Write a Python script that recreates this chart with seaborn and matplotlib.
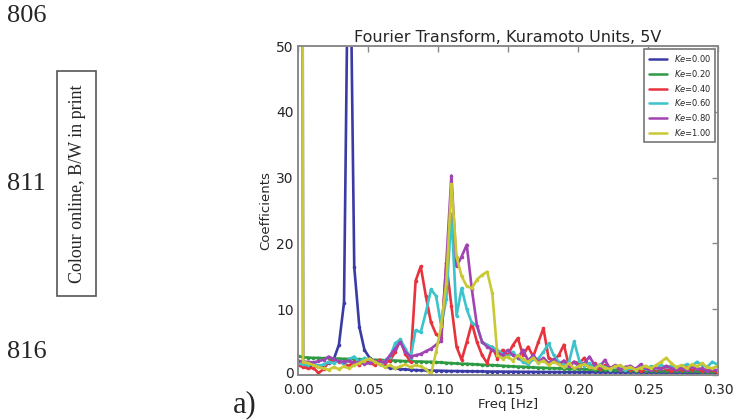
import numpy as np
import pandas as pd
import matplotlib
matplotlib.use("Agg")
import matplotlib.pyplot as plt
import matplotlib.transforms as mtransforms
import seaborn as sns
from matplotlib.lines import Line2D
from matplotlib.patches import Rectangle

# Frequency bins of the spectrum [Hz]
freq_hz = [
    0.0, 0.00365, 0.0073, 0.01095, 0.0146, 0.01825, 0.0219, 0.02555, 0.0292, 0.03285,
    0.0365, 0.04015, 0.0438, 0.04745, 0.0511, 0.05475, 0.0584, 0.06205, 0.0657, 0.06935,
    0.073, 0.07665, 0.0803, 0.08395, 0.0876, 0.09125, 0.0949, 0.09855, 0.1022, 0.10585,
    0.1095, 0.11315, 0.1168, 0.12045, 0.1241, 0.12775, 0.1314, 0.13505, 0.1387, 0.14235,
    0.146, 0.14965, 0.1533, 0.15695, 0.1606, 0.16425, 0.1679, 0.17155, 0.1752, 0.17885,
    0.1825, 0.18615, 0.1898, 0.19345, 0.1971, 0.20075, 0.2044, 0.20805, 0.2117, 0.21535,
    0.219, 0.22265, 0.2263, 0.22995, 0.2336, 0.23725, 0.2409, 0.24455, 0.2482, 0.25185,
    0.2555, 0.25915, 0.2628, 0.26645, 0.2701, 0.27375, 0.2774, 0.28105, 0.2847, 0.28835,
    0.292, 0.29565, 0.2993, 0.30295, 0.3066, 0.31025,
]

ke_labels = [r"$Ke$=0.00", r"$Ke$=0.20", r"$Ke$=0.40", r"$Ke$=0.60", r"$Ke$=0.80", r"$Ke$=1.00"]

coef_ke000 = [
    600, 1.6, 1.4, 1.3, 1.4, 1.5, 1.8, 2.4, 4.6, 11.0,
    80, 16.4, 7.3, 3.8, 2.6, 2.0, 1.6, 1.3, 1.1, 1.0,
    0.9, 0.85, 0.8, 0.75, 0.72, 0.7, 0.68, 0.66, 0.64, 0.62,
    0.6, 0.6, 0.58, 0.57, 0.56, 0.55, 0.54, 0.53, 0.52, 0.52,
    0.51, 0.5, 0.5, 0.49, 0.48, 0.48, 0.47, 0.47, 0.46, 0.46,
    0.45, 0.45, 0.44, 0.44, 0.43, 0.43, 0.43, 0.42, 0.42, 0.42,
    0.41, 0.41, 0.41, 0.4, 0.4, 0.4, 0.4, 0.39, 0.39, 0.39,
    0.39, 0.38, 0.38, 0.38, 0.38, 0.38, 0.37, 0.37, 0.37, 0.37,
    0.37, 0.36, 0.36, 0.36, 0.36, 0.36,
]
coef_ke020 = [
    2.9, 2.7, 2.65, 2.6, 2.6, 2.55, 2.55, 2.5, 2.5, 2.45,
    2.45, 2.4, 2.4, 2.35, 2.35, 2.3, 2.3, 2.25, 2.2, 2.2,
    2.15, 2.1, 2.1, 2.05, 2.05, 2.0, 2.0, 1.95, 1.9, 1.85,
    1.8, 1.75, 1.7, 1.7, 1.65, 1.6, 1.55, 1.5, 1.5, 1.45,
    1.4, 1.35, 1.3, 1.28, 1.25, 1.2, 1.15, 1.12, 1.1, 1.05,
    1.02, 1.0, 0.97, 0.95, 0.92, 0.9, 0.88, 0.85, 0.83, 0.8,
    0.78, 0.76, 0.74, 0.72, 0.7, 0.68, 0.67, 0.66, 0.65, 0.64,
    0.62, 0.61, 0.6, 0.59, 0.58, 0.57, 0.56, 0.55, 0.54, 0.53,
    0.52, 0.51, 0.5, 0.5, 0.49, 0.48,
]
coef_ke040 = [
    1.5, 1.2, 1.0, 1.1, 0.3, 0.9, 2.0, 2.3, 2.0, 1.7,
    1.4, 2.0, 1.5, 2.2, 1.9, 1.5, 2.3, 1.8, 2.2, 3.5,
    5.3, 3.2, 2.0, 14.3, 16.5, 12.0, 8.0, 6.2, 5.6, 17.0,
    10.5, 4.3, 2.3, 5.0, 7.9, 5.0, 3.0, 1.8, 4.3, 2.5,
    3.8, 3.0, 4.5, 5.6, 3.0, 4.3, 2.8, 5.0, 7.1, 2.6,
    2.2, 3.0, 4.6, 1.3, 2.0, 1.8, 2.6, 1.2, 1.8, 0.9,
    1.5, 1.0, 1.4, 0.8, 1.2, 0.7, 1.0, 0.6, 0.9, 1.2,
    0.8, 1.3, 0.9, 0.6, 1.0, 0.7, 1.2, 0.8, 1.1, 0.6,
    0.9, 0.7, 0.5, 0.8, 0.6, 0.7,
]
coef_ke060 = [
    1.8, 1.6, 1.5, 1.8, 1.4, 1.6, 2.0, 1.8, 2.2, 1.6,
    2.4, 2.8, 2.0, 2.6, 2.3, 2.0, 1.7, 2.2, 2.8, 4.8,
    5.4, 4.0, 2.6, 6.8, 6.5, 9.5, 13.0, 12.0, 7.5, 11.5,
    24.5, 9.0, 13.2, 10.0, 7.9, 7.5, 5.0, 4.6, 4.2, 3.8,
    3.2, 2.8, 3.5, 2.6, 2.0, 1.6, 2.4, 2.5, 3.5, 4.8,
    3.0, 2.0, 1.5, 2.0, 5.1, 2.2, 1.4, 1.8, 1.0, 1.6,
    1.2, 0.8, 1.3, 1.0, 0.7, 1.1, 0.8, 1.2, 0.9, 1.3,
    1.0, 1.5, 1.2, 1.4, 1.0, 1.3, 1.6, 1.3, 2.0, 1.5,
    1.2, 2.0, 1.6, 1.4, 1.8, 1.5,
]
coef_ke080 = [
    2.2, 2.0, 2.0, 1.9, 2.1, 2.3, 2.8, 2.4, 2.1, 2.0,
    2.2, 1.8, 2.0, 1.7, 1.8, 2.2, 1.9, 2.0, 3.0, 4.0,
    5.0, 3.5, 2.8, 3.0, 3.2, 3.6, 4.0, 4.6, 5.2, 17.0,
    30.3, 16.5, 18.0, 19.8, 13.0, 7.5, 5.0, 4.3, 3.8, 3.4,
    3.0, 3.8, 3.0, 2.6, 3.8, 2.2, 3.0, 2.0, 2.6, 1.8,
    2.4, 1.6, 2.2, 1.4, 2.0, 1.2, 1.8, 2.8, 1.5, 1.2,
    2.3, 1.0, 1.5, 0.8, 1.2, 1.4, 0.9, 1.6, 1.0, 0.7,
    1.2, 0.9, 1.4, 1.0, 0.8, 1.1, 0.7, 1.3, 0.9, 1.0,
    0.6, 0.9, 0.7, 0.5, 0.8, 0.6,
]
coef_ke100 = [
    600, 2.0, 1.8, 1.5, 1.2, 1.0, 0.8, 1.2, 0.9, 1.3,
    1.0, 1.5, 1.8, 2.2, 2.5, 2.0, 1.6, 1.2, 1.5, 1.0,
    1.3, 1.6, 1.2, 1.5, 1.3, 0.9, 0.1, 3.5, 7.5, 14.0,
    29.0, 18.0, 15.0, 13.5, 13.2, 14.5, 15.2, 15.7, 12.4, 3.0,
    2.5, 2.8, 2.2, 3.0, 2.4, 2.0, 2.6, 1.8, 2.2, 1.5,
    2.0, 1.6, 1.2, 1.8, 1.0, 1.4, 1.6, 1.2, 1.0, 1.5,
    1.1, 0.9, 1.3, 1.5, 1.0, 1.2, 0.8, 1.1, 1.4, 1.0,
    1.5, 2.0, 2.6, 1.8, 1.2, 1.5, 1.0, 1.6, 1.3, 1.8,
    1.2, 1.0, 1.4, 1.1, 0.9, 1.2,
]

series_values = [coef_ke000, coef_ke020, coef_ke040, coef_ke060, coef_ke080, coef_ke100]
line_colors = ["#3b3ba6", "#2e9a44", "#e8323c", "#3cc3cb", "#a044b4", "#c9c935"]

x_ticks = [0.00, 0.05, 0.10, 0.15, 0.20, 0.25, 0.30]
y_ticks = [0, 10, 20, 30, 40, 50]

df = pd.concat(
    [pd.DataFrame({"freq": freq_hz, "coef": vals, "Ke": lab})
     for lab, vals in zip(ke_labels, series_values)],
    ignore_index=True,
)

sns.set_style("white")
plt.rcParams["font.family"] = ["DejaVu Sans"]

fig = plt.figure(figsize=(7.34, 4.2), dpi=100)
ax = fig.add_axes([298 / 734, 45 / 420, 420.3 / 734, 329 / 420])

sns.lineplot(
    data=df, x="freq", y="coef", hue="Ke", hue_order=ke_labels,
    palette=line_colors, estimator=None, sort=False,
    linewidth=1.9, marker="o", markersize=2.6, markeredgewidth=0,
    legend=False, ax=ax,
)

ax.set_xlim(0, 0.30)
ax.set_ylim(0, 50)
ax.set_xticks(x_ticks)
ax.set_xticklabels([f"{t:.2f}" for t in x_ticks])
ax.set_yticks(y_ticks)
ax.tick_params(axis="both", which="major", direction="in", length=4, width=1,
               color="#888888", labelsize=10, top=True, right=True)
ax.tick_params(axis="x", pad=5.5)
ax.tick_params(axis="y", pad=3)
for sp in ax.spines.values():
    sp.set_color("#8a8a8a")
    sp.set_linewidth(1.4)

# lift the lowest y label a touch so it clears the x labels at the corner
fig.canvas.draw()
y_labels = ax.get_yticklabels()
y_labels[0].set_transform(y_labels[0].get_transform()
                          + mtransforms.ScaledTranslation(0, 2 / 100, fig.dpi_scale_trans))

ax.set_title("Fourier Transform, Kuramoto Units, 5V", fontsize=11.5, pad=3)
ax.set_xlabel("Freq [Hz]", fontsize=9.5, labelpad=1)
ax.set_ylabel("Coefficients", fontsize=9.5, labelpad=3)

handles = [Line2D([], [], color=c, lw=1.8) for c in line_colors]
leg = ax.legend(handles, ke_labels, loc="upper right", fontsize=6, frameon=True,
                fancybox=False, framealpha=1, edgecolor="#777777",
                borderaxespad=0.35, handlelength=2.2, labelspacing=0.45,
                borderpad=0.5, handletextpad=0.8)
leg.get_frame().set_linewidth(1.2)

# Page furniture: line numbers, print note box and panel label
serif = ["Liberation Serif", "DejaVu Serif"]
for txt, y in [("806", 16), ("811", 184), ("816", 352)]:
    fig.text(7 / 734, 1 - y / 420, txt, ha="left", va="center",
             fontsize=19, family=serif)
fig.add_artist(Rectangle((57 / 734, 1 - 296 / 420), 39 / 734, 225 / 420,
                         transform=fig.transFigure, fill=False,
                         edgecolor="#555555", linewidth=1.2))
fig.text(77 / 734, 1 - 183.5 / 420, "Colour online, B/W in print", rotation=90,
         ha="center", va="center", fontsize=13, family=serif)
fig.text(245 / 734, 1 - 405 / 420, "a)", ha="center", va="center",
         fontsize=22, family=serif)

fig.savefig("out.png", dpi=100)
